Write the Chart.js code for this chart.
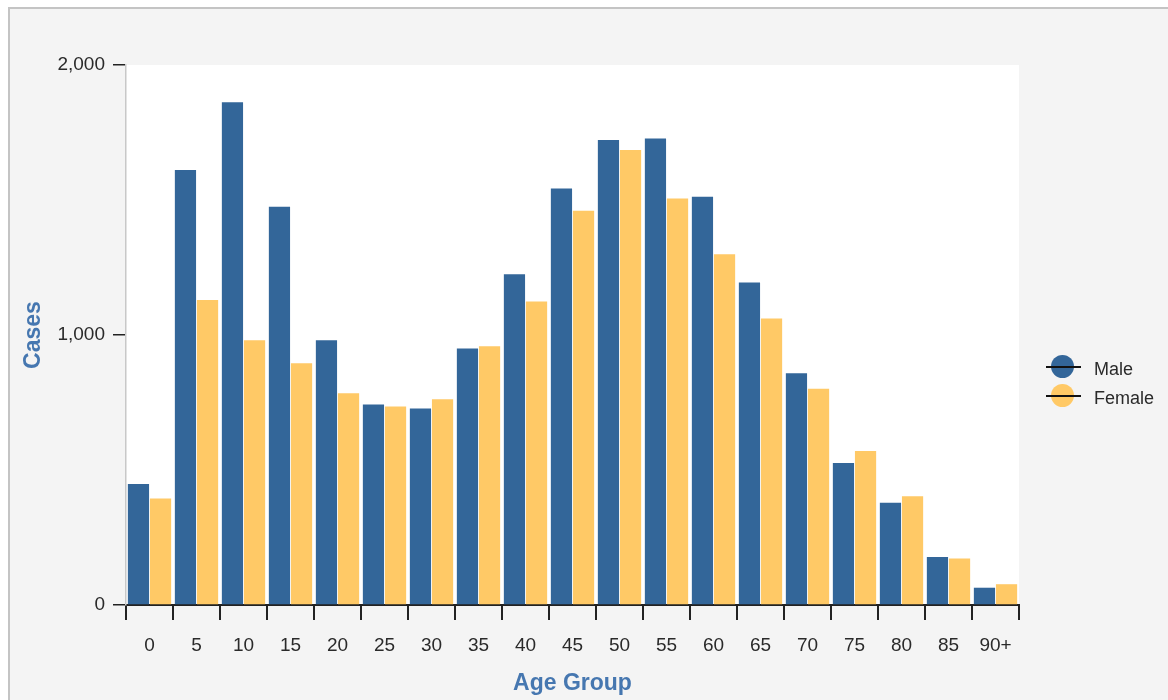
<!DOCTYPE html>
<html>
<head>
<meta charset="utf-8">
<script src="https://cdn.jsdelivr.net/npm/chart.js@4.4.1/dist/chart.umd.min.js"></script>
<style>
  html, body { margin: 0; padding: 0; background: #fff; width: 1168px; height: 700px; overflow: hidden; }
  #frame { position: absolute; left: 8px; top: 7px; width: 1200px; height: 720px; background: #f4f4f4;
    border-top: 2px solid #c4c4c4; border-left: 2px solid #c4c4c4; }
  #chart { position: absolute; left: 0; top: 0; }
  #legend { position: absolute; left: 1046px; top: 352px; font: 18px "Liberation Sans", Arial, sans-serif; color: #2a2a2a; }
  .item { display: flex; align-items: center; height: 29px; }
  .mark { position: relative; width: 35px; height: 23px; margin-right: 13px; }
  .mark .dot { position: absolute; left: 5px; top: 0; width: 23px; height: 23px; border-radius: 50%; }
  .mark .bar { position: absolute; left: 0; top: 10.5px; width: 35px; height: 2px; background: #111; }
  .item span.txt { position: relative; top: 3px; }
</style>
</head>
<body>
<div id="frame"></div>
<canvas id="chart" width="1168" height="700"></canvas>
<div id="legend"></div>
<script>
const ageGroups = ['0', '5', '10', '15', '20', '25', '30', '35', '40', '45', '50', '55', '60', '65', '70', '75', '80', '85', '90+'];
const maleCases = [448, 1611, 1862, 1475, 981, 743, 728, 950, 1225, 1543, 1722, 1728, 1512, 1194, 858, 526, 379, 178, 64];
const femaleCases = [394, 1130, 981, 895, 784, 735, 762, 958, 1124, 1460, 1685, 1506, 1299, 1061, 801, 570, 403, 172, 77];
const seriesNames = ['Male', 'Female'];
const seriesColors = ['#336699', '#ffc966'];
const yTicks = [0, 1000, 2000];

const titleColor = '#4677b0';
const fontFamily = '"Liberation Sans", Arial, sans-serif';

const plotBackground = {
  id: 'plotBackground',
  beforeDraw(chart) {
    const { ctx, chartArea: a } = chart;
    ctx.save();
    ctx.fillStyle = '#ffffff';
    ctx.fillRect(a.left, a.top, a.right - a.left, a.bottom - a.top);
    ctx.restore();
  }
};

function buildLegend() {
  const box = document.getElementById('legend');
  seriesNames.forEach((name, i) => {
    const row = document.createElement('div');
    row.className = 'item';
    row.innerHTML = `<div class="mark"><div class="dot" style="background:${seriesColors[i]}"></div><div class="bar"></div></div><span class="txt">${name}</span>`;
    box.appendChild(row);
  });
}

function renderChart() {
  const ctx = document.getElementById('chart');
  new Chart(ctx, {
    type: 'bar',
    data: {
      labels: ageGroups,
      datasets: [
        { label: seriesNames[0], data: maleCases, backgroundColor: seriesColors[0] },
        { label: seriesNames[1], data: femaleCases, backgroundColor: seriesColors[1] }
      ]
    },
    options: {
      responsive: false,
      animation: false,
      datasets: { bar: { categoryPercentage: 0.94, barPercentage: 0.96 } },
      layout: { padding: { top: 65, right: 149, left: 0, bottom: 0 } },
      plugins: { legend: { display: false }, tooltip: { enabled: false } },
      scales: {
        x: {
          grid: { offset: true, drawOnChartArea: false, tickLength: 15, tickColor: '#222', lineWidth: 2 },
          border: { color: '#222', width: 2 },
          ticks: { color: '#2a2a2a', padding: 14, font: { family: fontFamily, size: 19 } },
          title: { display: true, text: 'Age Group', color: titleColor, padding: { bottom: 3 }, font: { family: fontFamily, size: 23, weight: 'bold' } },
          afterFit(scale) { scale.height = 95; }
        },
        y: {
          min: 0,
          max: 2000,
          afterBuildTicks(scale) { scale.ticks = yTicks.map((v) => ({ value: v })); },
          grid: { drawOnChartArea: false, tickLength: 13, tickColor: '#222', lineWidth: 1.5 },
          border: { color: '#c8c8c8', width: 1.5 },
          ticks: {
            color: '#2a2a2a', padding: 8, font: { family: fontFamily, size: 19 },
            callback: (v) => Number(v).toLocaleString('en-US')
          },
          title: { display: true, text: 'Cases', color: titleColor, padding: { top: 20 }, font: { family: fontFamily, size: 23, weight: 'bold' } },
          afterFit(scale) { scale.width = 126; }
        }
      }
    },
    plugins: [plotBackground]
  });
}

buildLegend();
renderChart();
</script>
</body>
</html>
